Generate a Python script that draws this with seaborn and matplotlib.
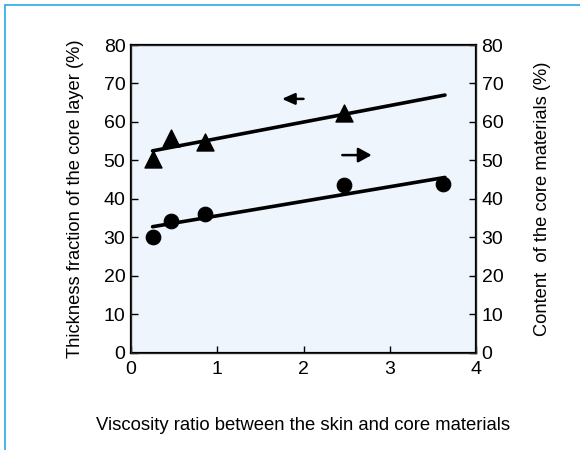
import numpy as np
import pandas as pd
import matplotlib
matplotlib.use("Agg")
import matplotlib.pyplot as plt
from matplotlib.lines import Line2D
import seaborn as sns

# dati
viscosity_ratio = [0.26, 0.46, 0.86, 2.47, 3.62]
thickness_x = [0.26, 0.46, 0.86, 2.47]
thickness_frac = [50.3, 55.8, 54.9, 62.3]
content_core = [30.0, 34.4, 36.0, 43.6, 43.9]

# rette di regressione (estremi)
fit_x = [0.25, 3.64]
thickness_fit = [52.5, 67.0]
content_fit = [32.8, 45.6]

x_ticks = [0, 1, 2, 3, 4]
y_ticks = [0, 10, 20, 30, 40, 50, 60, 70, 80]

sns.set_style("ticks")
plt.rcParams['font.family'] = ['Liberation Sans', 'DejaVu Sans']
plt.rcParams['text.color'] = 'black'
plt.rcParams['axes.labelcolor'] = 'black'
plt.rcParams['xtick.color'] = 'black'
plt.rcParams['ytick.color'] = 'black'

fig = plt.figure(figsize=(5.8, 4.5), dpi=100)
ax = fig.add_axes([0.2259, 0.2156, 0.5948, 0.6844])
ax.set_facecolor('#eef5fc')

df_t = pd.DataFrame({'x': thickness_x, 'y': thickness_frac})
df_c = pd.DataFrame({'x': viscosity_ratio, 'y': content_core})

# serie a sinistra: spessore
sns.lineplot(x=fit_x, y=thickness_fit, ax=ax, color='black', linewidth=2.6)
sns.scatterplot(data=df_t, x='x', y='y', ax=ax, marker='^', s=150,
                color='black', edgecolor='black', zorder=5)

ax.set_xlim(0, 4)
ax.set_ylim(0, 80)
ax.set_xticks(x_ticks)
ax.set_yticks(y_ticks)
ax.tick_params(direction='in', length=5, width=1, labelsize=14, pad=4)
ax.tick_params(axis='x', pad=6)
for s in ax.spines.values():
    s.set_linewidth(1.6)
    s.set_color('black')

ax.set_xlabel('Viscosity ratio between the skin and core materials', fontsize=13.3, labelpad=28)
ax.set_ylabel('Thickness fraction of the core layer (%)', fontsize=13.2, labelpad=14)

# serie a destra: contenuto
ax2 = ax.twinx()
sns.lineplot(x=fit_x, y=content_fit, ax=ax2, color='black', linewidth=2.6)
sns.scatterplot(data=df_c, x='x', y='y', ax=ax2, marker='o', s=110,
                color='black', edgecolor='black', zorder=5)
ax2.set_ylim(0, 80)
ax2.set_yticks(y_ticks)
ax2.tick_params(direction='in', length=5, width=1, labelsize=14, pad=4)
ax2.set_ylabel('Content  of the core materials (%)', fontsize=13.2, labelpad=22)
ax2.set_xlabel('')

# frecce
ax.annotate('', xy=(1.75, 66.0), xytext=(2.0, 66.0),
            arrowprops=dict(arrowstyle='-|>,head_length=0.38,head_width=0.17',
                            mutation_scale=20, color='black', lw=1.8,
                            shrinkA=0, shrinkB=0))
ax.annotate('', xy=(2.79, 51.4), xytext=(2.45, 51.4),
            arrowprops=dict(arrowstyle='-|>,head_length=0.4,head_width=0.22',
                            mutation_scale=20, color='black', lw=1.8,
                            shrinkA=0, shrinkB=0))

# cornice azzurra
fig.add_artist(Line2D([5 / 580, 1], [1 - 4.5 / 450, 1 - 4.5 / 450], color='#29abe2', lw=1.2))
fig.add_artist(Line2D([5 / 580, 5 / 580], [0, 1 - 4.5 / 450], color='#29abe2', lw=1.2))

fig.savefig('out.png', dpi=100)
